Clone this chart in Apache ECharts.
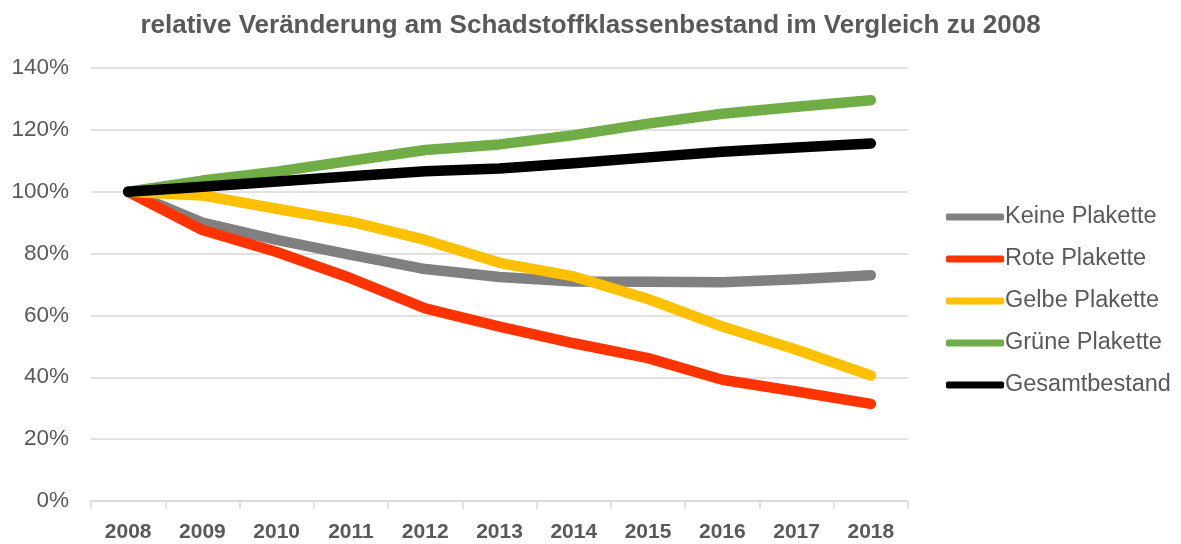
<!DOCTYPE html>
<html>
<head>
<meta charset="utf-8">
<script src="https://cdn.jsdelivr.net/npm/echarts@6/dist/echarts.min.js"></script>
<style>
  html, body { margin: 0; padding: 0; background: #fff; }
  #main { width: 1181px; height: 544px; }
</style>
</head>
<body>
<div id="main"></div>
<script>
var years = ["2008", "2009", "2010", "2011", "2012", "2013", "2014", "2015", "2016", "2017", "2018"];
var keine = [100, 90, 84.4, 79.6, 75, 72.4, 71, 70.9, 70.7, 71.7, 73];
var rote = [100, 87.6, 80.5, 72, 62.3, 56.4, 51, 46.2, 39.2, 35.4, 31.4];
var gelbe = [100, 98.8, 94.5, 90.3, 84.4, 77, 72.6, 65.3, 56.4, 48.9, 40.6];
var gruene = [100, 103.6, 106.5, 110, 113.5, 115.3, 118.3, 122, 125.2, 127.5, 129.6];
var gesamt = [100, 101.6, 103.3, 105, 106.6, 107.5, 109.2, 111.1, 112.9, 114.3, 115.6];

var names = ["Keine Plakette", "Rote Plakette", "Gelbe Plakette", "Grüne Plakette", "Gesamtbestand"];
var colors = ["#808080", "#ff3300", "#ffc000", "#70ad47", "#000000"];
var values = [keine, rote, gelbe, gruene, gesamt];

var chart = echarts.init(document.getElementById("main"));

var series = names.map(function (n, i) {
  return {
    name: n,
    type: "line",
    data: values[i],
    symbol: "none",
    smooth: false,
    lineStyle: { color: colors[i], width: 10.5, cap: "round", join: "round" },
    itemStyle: { color: colors[i] }
  };
});

var option = {
  animation: false,
  title: {
    text: "relative Veränderung am Schadstoffklassenbestand im Vergleich zu 2008",
    left: "center",
    top: 8,
    textStyle: {
      fontFamily: "Liberation Sans, Arial",
      fontSize: 26,
      fontWeight: "bold",
      color: "#595959"
    }
  },
  grid: { left: 91, right: 273, top: 68, bottom: 43, containLabel: false },
  legend: {
    orient: "vertical",
    left: 941,
    top: 200,
    itemWidth: 58,
    itemHeight: 7,
    itemGap: 18,
    icon: "roundRect",
    textStyle: {
      fontFamily: "Liberation Sans, Arial",
      fontSize: 23.5,
      lineHeight: 24,
      color: "#595959",
      padding: [0, 0, 0, -4]
    },
    data: names
  },
  xAxis: {
    type: "category",
    data: years,
    boundaryGap: true,
    axisLine: { lineStyle: { color: "#d9d9d9", width: 1.5 } },
    axisTick: { show: true, length: 8, lineStyle: { color: "#d9d9d9", width: 1.5 } },
    axisLabel: {
      margin: 21,
      fontFamily: "Liberation Sans, Arial",
      fontSize: 21,
      fontWeight: "bold",
      color: "#595959"
    }
  },
  yAxis: {
    type: "value",
    min: 0,
    max: 140,
    interval: 20,
    axisLine: { show: false },
    axisTick: { show: false },
    splitLine: { lineStyle: { color: "#d9d9d9", width: 1.5 } },
    axisLabel: {
      margin: 22,
      formatter: "{value}%",
      fontFamily: "Liberation Sans, Arial",
      fontSize: 22.5,
      color: "#595959"
    }
  },
  series: series
};

chart.setOption(option);
</script>
</body>
</html>
